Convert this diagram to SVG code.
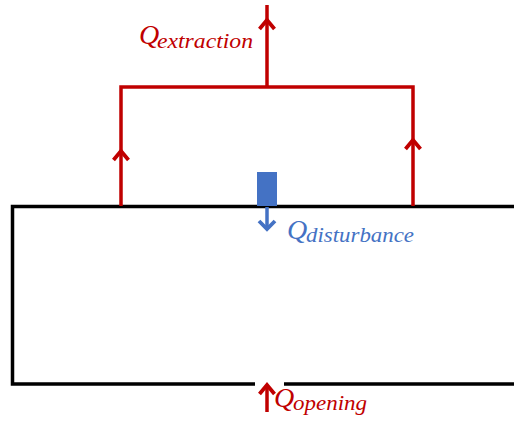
<svg xmlns="http://www.w3.org/2000/svg" width="514" height="421" viewBox="0 0 514 421">
<style>
.blk{stroke:#000;stroke-width:3.5;fill:none}
.red{stroke:#C00000;stroke-width:3.5;fill:none}
.redh{stroke:#C00000;stroke-width:3.8;fill:none;stroke-linejoin:miter}
.blue{stroke:#4472C4;stroke-width:3.5;fill:none}
.blueh{stroke:#4472C4;stroke-width:3.8;fill:none}
.lbl{font-family:"Liberation Serif","DejaVu Serif",serif;font-style:italic}
.q{font-size:28px}
.sub{font-size:20px}
</style>
<rect width="514" height="421" fill="#fff"/>
<g id="room">
<polyline class="blk" points="514,206.5 12.5,206.5 12.5,384 255,384"/>
<line class="blk" x1="284" y1="384" x2="514" y2="384"/>
</g>
<g id="disturbance">
<rect x="257" y="172" width="20" height="34" fill="#4472C4"/>
<text class="lbl q" fill="#4472C4" x="287" y="239">Q</text>
<text class="lbl sub" fill="#4472C4" x="306" y="242" textLength="108" lengthAdjust="spacingAndGlyphs">disturbance</text>
</g>
<g id="extraction">
<text class="lbl q" fill="#C00000" x="139" y="44">Q</text>
<text class="lbl sub" fill="#C00000" x="157" y="48" textLength="96" lengthAdjust="spacingAndGlyphs">extraction</text>
</g>
<g id="opening">
<text class="lbl q" fill="#C00000" x="274" y="407">Q</text>
<text class="lbl sub" fill="#C00000" x="293" y="410" textLength="74" lengthAdjust="spacingAndGlyphs">opening</text>
</g>
<g id="connectors">
<polyline class="red" points="121,206 121,87 413,87 413,206"/>
<line class="red" x1="267" y1="87" x2="267" y2="5"/>
<polyline class="redh" points="113.5,160 121,151 128.5,160"/>
<polyline class="redh" points="405.5,149 413,140 420.5,149"/>
<polyline class="redh" points="259.5,29 267,20 274.5,29"/>
<line class="blue" x1="267" y1="207" x2="267" y2="229"/>
<polyline class="blueh" points="259,221 267,229 275,221"/>
<line class="red" x1="267" y1="412" x2="267" y2="386"/>
<polyline class="redh" points="259.5,394 267,385 274.5,394"/>
</g>
</svg>
